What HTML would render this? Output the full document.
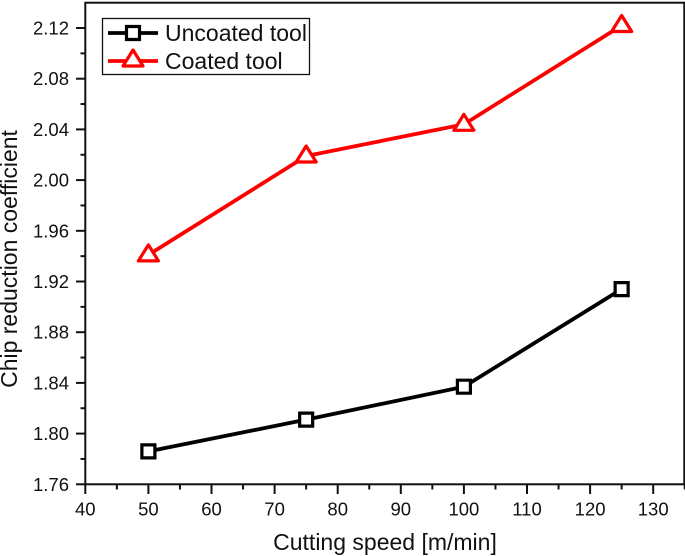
<!DOCTYPE html>
<html>
<head>
<meta charset="utf-8">
<style>
html,body{margin:0;padding:0;background:#fff;width:685px;height:556px;overflow:hidden}
svg{display:block}
text{font-family:"Liberation Sans",sans-serif;fill:#111}
</style>
</head>
<body>
<svg id="chart" width="685" height="556" viewBox="0 0 685 556" xmlns="http://www.w3.org/2000/svg"></svg>
<script>
const categories = [50, 75, 100, 125];
const uncoatedValues = [1.786, 1.811, 1.837, 1.914];
const coatedValues = [1.941, 2.019, 2.044, 2.122];
const xTickLabels = [40, 50, 60, 70, 80, 90, 100, 110, 120, 130];
const xMinorTicks = [45, 55, 65, 75, 85, 95, 105, 115, 125, 135];
const yTickLabels = ["1.76", "1.80", "1.84", "1.88", "1.92", "1.96", "2.00", "2.04", "2.08", "2.12"];
const yMinorTicks = [1.78, 1.82, 1.86, 1.90, 1.94, 1.98, 2.02, 2.06, 2.10];

const NS = 'http://www.w3.org/2000/svg';
const svg = document.getElementById('chart');
const xScale = v => 85.3 + (v - 40) * 6.31;
const yScale = v => 484.3 - (v - 1.76) * 1267.5;

function make(tag, attrs, text) {
  const el = document.createElementNS(NS, tag);
  for (const k in attrs) el.setAttribute(k, attrs[k]);
  if (text !== undefined) el.textContent = text;
  svg.appendChild(el);
  return el;
}
function squarePoints(cx, cy, r) {
  return `${cx - r},${cy - r} ${cx + r},${cy - r} ${cx + r},${cy + r} ${cx - r},${cy + r}`;
}
function trianglePoints(cx, cy, r) {
  return `${cx},${cy - r} ${cx + r},${cy + r * 0.6} ${cx - r},${cy + r * 0.6}`;
}

// Plot frame
const frame = make('rect', {x: 85.3, y: 2.7, width: 599, height: 481.6, fill: 'none', stroke: '#111', 'stroke-width': 2});



// X ticks
xTickLabels.forEach(v => {
  const t = make('line', {x1: xScale(v), x2: xScale(v), y1: 484.3, y2: 494, stroke: '#111', 'stroke-width': 2});
  
  
  const l = make('text', {x: xScale(v), y: 515.5, 'text-anchor': 'middle', 'font-size': 18.5}, v);
  
  
});
xMinorTicks.forEach(v => {
  const t = make('line', {x1: xScale(v), x2: xScale(v), y1: 484.3, y2: 489.5, stroke: '#111', 'stroke-width': 2});
  
  
});

// Y ticks
yTickLabels.forEach(v => {
  const y = yScale(parseFloat(v));
  const t = make('line', {x1: 76, x2: 85.3, y1: y, y2: y, stroke: '#111', 'stroke-width': 2});
  
  
  const l = make('text', {x: 69, y: y + 6.5, 'text-anchor': 'end', 'font-size': 18.5}, v);
  
  
});
yMinorTicks.forEach(v => {
  const t = make('line', {x1: 80.5, x2: 85.3, y1: yScale(v), y2: yScale(v), stroke: '#111', 'stroke-width': 2});
  
  
});

// Axis titles
const xTitle = make('text', {x: 385, y: 550, 'text-anchor': 'middle', 'font-size': 23}, 'Cutting speed [m/min]');


const yTitle = make('text', {x: 0, y: 0, transform: 'translate(17,259) rotate(-90)', 'text-anchor': 'middle', 'font-size': 23}, 'Chip reduction coefficient');



// Series
const uncoatedLine = make('polyline', {points: categories.map((c, i) => `${xScale(c)},${yScale(uncoatedValues[i])}`).join(' '), fill: 'none', stroke: '#000', 'stroke-width': 3.8});


const coatedLine = make('polyline', {points: categories.map((c, i) => `${xScale(c)},${yScale(coatedValues[i])}`).join(' '), fill: 'none', stroke: '#f00', 'stroke-width': 3.8});



categories.forEach((c, i) => {
  const p = make('polygon', {points: squarePoints(xScale(c), yScale(uncoatedValues[i]), 6.5), fill: '#fff', stroke: '#000', 'stroke-width': 3.2});
  
  
  const q = make('polygon', {points: trianglePoints(xScale(c), yScale(coatedValues[i]), 10), fill: '#fff', stroke: '#f00', 'stroke-width': 3.2, 'stroke-linejoin': 'round'});
  
  
});

// Legend
const legendBox = make('rect', {x: 102.5, y: 18.5, width: 207, height: 56, fill: '#fff', stroke: '#111', 'stroke-width': 1.3});


const k1 = make('line', {x1: 108, x2: 158, y1: 33, y2: 33, stroke: '#000', 'stroke-width': 3.8});


const m1 = make('polygon', {points: squarePoints(133, 33, 6.5), fill: '#fff', stroke: '#000', 'stroke-width': 3.2});


const t1 = make('text', {x: 165, y: 41, 'font-size': 23}, 'Uncoated tool');


const k2 = make('line', {x1: 108, x2: 158, y1: 61, y2: 61, stroke: '#f00', 'stroke-width': 3.8});


const m2 = make('polygon', {points: trianglePoints(133, 60, 10), fill: '#fff', stroke: '#f00', 'stroke-width': 3.2, 'stroke-linejoin': 'round'});


const t2 = make('text', {x: 165, y: 69, 'font-size': 23}, 'Coated tool');


</script>
</body>
</html>
